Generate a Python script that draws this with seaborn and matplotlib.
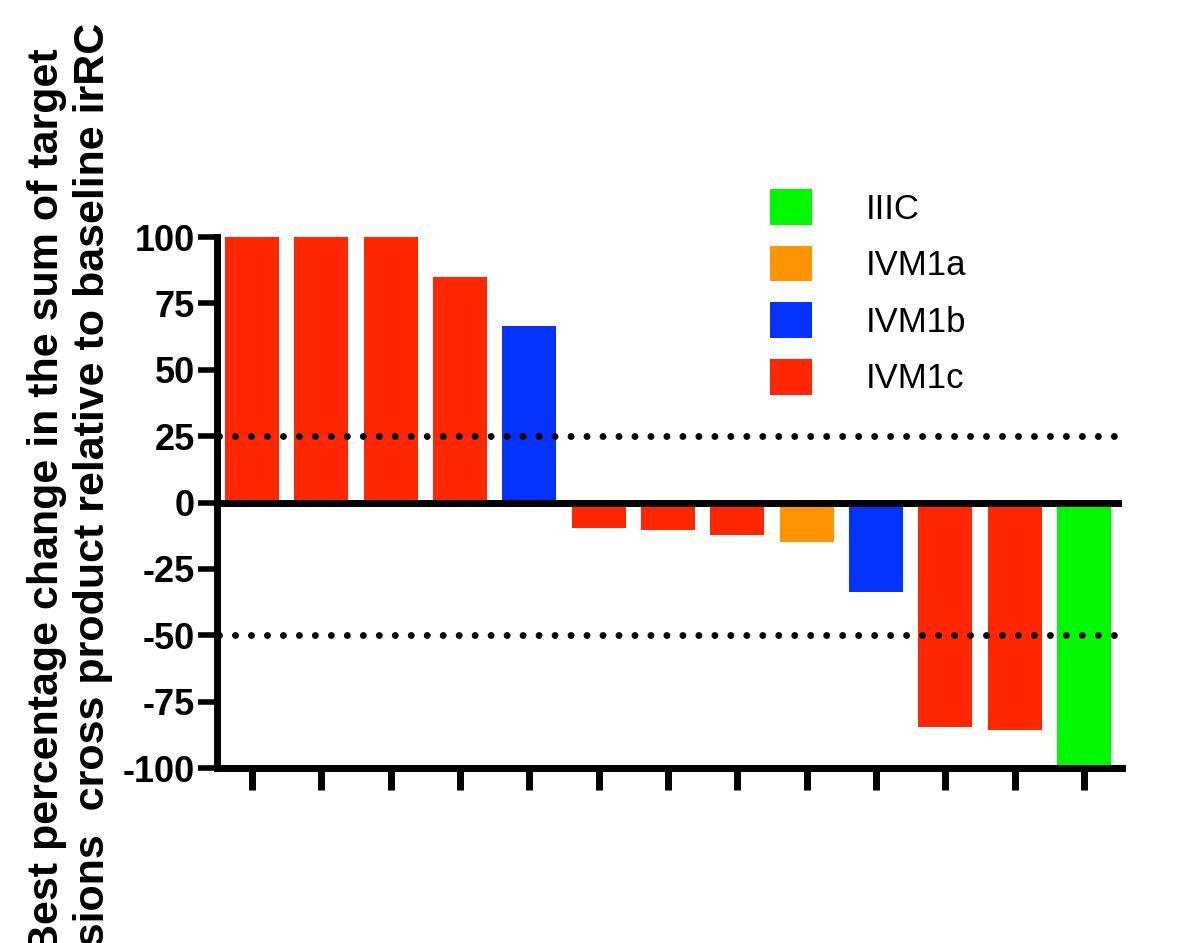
import matplotlib
matplotlib.use("Agg")
import matplotlib.pyplot as plt
from matplotlib.patches import Patch
import seaborn as sns
import pandas as pd

# ---- data ----
patients = list(range(1, 14))
best_change = [100, 100, 100, 85, 66.5, -9.5, -10.5, -12.3, -14.8, -33.8, -84.5, -85.7, -100]
stage = ["IVM1c", "IVM1c", "IVM1c", "IVM1c", "IVM1b", "IVM1c", "IVM1c", "IVM1c",
         "IVM1a", "IVM1b", "IVM1c", "IVM1c", "IIIC"]
stage_order = ["IIIC", "IVM1a", "IVM1b", "IVM1c"]
stage_colors = ["#00F900", "#FF9300", "#0433FF", "#FF2600"]
y_ticks = [-100, -75, -50, -25, 0, 25, 50, 75, 100]
ref_lines = [25, -50]
ylabel_text = "Best percentage change in the sum of target\nlesions  cross product relative to baseline irRC"

df = pd.DataFrame({"patient": [str(p) for p in patients], "change": best_change, "stage": stage})
palette = dict(zip(stage_order, stage_colors))

sns.set_style("white")
plt.rcParams["font.family"] = ["Liberation Sans", "DejaVu Sans"]
plt.rcParams["text.color"] = "black"
plt.rcParams["axes.labelcolor"] = "black"
plt.rcParams["xtick.color"] = "black"
plt.rcParams["ytick.color"] = "black"

W, H = 1184, 943
fig = plt.figure(figsize=(W / 100, H / 100), dpi=100)
ax = fig.add_axes([217 / W, 1 - 768 / H, (1122 - 217) / W, (768 - 237) / H])

sns.barplot(data=df, x="patient", y="change", hue="stage", hue_order=stage_order,
            palette=palette, dodge=False, width=0.78, legend=False, ax=ax,
            saturation=1, linewidth=0)

n = len(patients)
ax.set_xlim(-0.505, n - 0.45)
ax.set_ylim(-100, 100)
ax.set_yticks(y_ticks)
ax.set_yticklabels([str(t) for t in y_ticks], fontsize=26, fontweight="bold", color="black")
ax.set_xticks(range(n))
ax.set_xticklabels([""] * n)
ax.set_xlabel("")
ax.set_ylabel("")

for side in ["top", "right"]:
    ax.spines[side].set_visible(False)
for side in ["left", "bottom"]:
    ax.spines[side].set_visible(True)
    ax.spines[side].set_linewidth(5)
    ax.spines[side].set_color("black")
ax.tick_params(axis="y", length=14, width=4, pad=2, colors="black", left=True)
ax.tick_params(axis="x", length=16, width=5, colors="black", bottom=True)

# zero line
ax.axhline(0, color="black", lw=5, zorder=3)
# dotted reference lines
for r in ref_lines:
    ax.hlines(r, -0.48, n - 0.55, colors="black", lw=5,
              linestyles=(0, (0.001, 2.3)), capstyle="round", zorder=4)

# legend
handles = [Patch(facecolor=c, edgecolor="none", label=s) for s, c in zip(stage_order, stage_colors)]
leg = fig.legend(handles=handles, loc="upper left", bbox_to_anchor=(770 / W, 1 - 189 / H),
                 frameon=False, fontsize=25, handlelength=1.2, handleheight=1.2,
                 handletextpad=1.55, labelspacing=0.58, borderpad=0, borderaxespad=0)
for t in leg.get_texts():
    t.set_color("black")

# y label (two lines, centered on axes)
fig.text(70 / W, 1 - 502 / H, ylabel_text, rotation=90, ha="center", va="center",
         multialignment="center", fontsize=31, fontweight="bold", color="black",
         linespacing=1.22)

fig.savefig("out.png", dpi=100)
